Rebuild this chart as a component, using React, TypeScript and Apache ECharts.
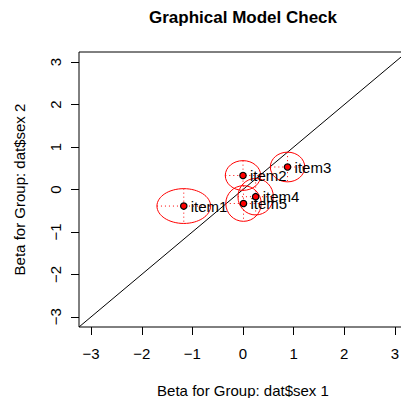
import React, { useEffect, useRef } from "react";
import * as echarts from "echarts";

const itemNames = ["item1", "item2", "item3", "item4", "item5"];
const betaGroup1 = [-1.17, 0.0, 0.88, 0.25, 0.01];
const betaGroup2 = [-0.39, 0.33, 0.53, -0.17, -0.33];
const radiusGroup1 = [0.53, 0.35, 0.34, 0.35, 0.35];
const radiusGroup2 = [0.41, 0.35, 0.35, 0.43, 0.42];
const tickValues = [-3, -2, -1, 0, 1, 2, 3];
const axisLimit = 3.24;

const FONT = "'Liberation Sans', Arial, Helvetica, sans-serif";

export default function App() {
  const ref = useRef<HTMLDivElement>(null);
  useEffect(() => {
    if (!ref.current) return;
    const chart = echarts.init(ref.current, null, { renderer: "svg" });
    const data = itemNames.map((n, i) => [
      betaGroup1[i],
      betaGroup2[i],
      radiusGroup1[i],
      radiusGroup2[i],
      n,
    ]);
    const axisCommon = {
      type: "value",
      min: -axisLimit,
      max: axisLimit,
      splitLine: { show: false },
      axisLine: { show: false, onZero: false },
      axisTick: {
        show: true,
        length: 8,
        inside: false,
        customValues: tickValues,
        lineStyle: { color: "#000", width: 1 },
      },
      nameLocation: "middle",
      nameTextStyle: { fontFamily: FONT, fontSize: 15, color: "#000" },
    };
    const fmt = (v: number) => (v < 0 ? "\u2212" + Math.abs(v) : String(v));
    chart.setOption({
      animation: false,
      backgroundColor: "#fff",
      graphic: [
        {
          type: "text",
          x: 243,
          y: 17,
          style: {
            text: "Graphical Model Check",
            fontFamily: FONT,
            fontSize: 17,
            fontWeight: "bold",
            fill: "#000",
            align: "center",
            verticalAlign: "middle",
          },
        },
      ],
      grid: {
        left: 79,
        top: 52,
        width: 328,
        height: 275,
        show: true,
        borderColor: "#000",
        borderWidth: 1,
        containLabel: false,
        outerBoundsMode: "none",
      },
      xAxis: {
        ...axisCommon,
        name: "Beta for Group: dat$sex 1",
        nameGap: 56,
        axisLabel: {
          customValues: tickValues,
          margin: 19,
          fontFamily: FONT,
          fontSize: 15,
          color: "#000",
          formatter: fmt,
        },
      },
      yAxis: {
        ...axisCommon,
        name: "Beta for Group: dat$sex 2",
        nameGap: 52,
        axisLabel: {
          customValues: tickValues,
          margin: 16,
          rotate: 90,
          fontFamily: FONT,
          fontSize: 15,
          color: "#000",
          formatter: fmt,
        },
      },
      series: [
        {
          type: "line",
          data: [
            [-axisLimit, -axisLimit],
            [axisLimit, axisLimit],
          ],
          symbol: "none",
          lineStyle: { color: "#000", width: 1 },
          silent: true,
          z: 1,
        },
        {
          type: "custom",
          data,
          z: 2,
          clip: false,
          renderItem: (params: any, api: any) => {
            const x = api.value(0);
            const y = api.value(1);
            const rx = api.value(2);
            const ry = api.value(3);
            const c = api.coord([x, y]);
            const sz = api.size([rx, ry], [x, y]);
            const prx = sz[0];
            const pry = sz[1];
            return {
              type: "group",
              children: [
                {
                  type: "ellipse",
                  shape: { cx: c[0], cy: c[1], rx: prx, ry: pry },
                  style: { fill: "none", stroke: "#ff0000", lineWidth: 1 },
                },
                {
                  type: "line",
                  shape: { x1: c[0] - prx, y1: c[1], x2: c[0] + prx, y2: c[1] },
                  style: { stroke: "#ff0000", lineWidth: 1, lineDash: [1, 3] },
                },
                {
                  type: "line",
                  shape: { x1: c[0], y1: c[1] - pry, x2: c[0], y2: c[1] + pry },
                  style: { stroke: "#ff0000", lineWidth: 1, lineDash: [1, 3] },
                },
              ],
            };
          },
        },
        {
          type: "custom",
          data,
          z: 3,
          clip: false,
          renderItem: (params: any, api: any) => {
            const c = api.coord([api.value(0), api.value(1)]);
            return {
              type: "group",
              children: [
                {
                  type: "circle",
                  shape: { cx: c[0], cy: c[1], r: 3.2 },
                  style: { fill: "#ff0000", stroke: "#000", lineWidth: 1.2 },
                },
                {
                  type: "text",
                  x: c[0] + 7,
                  y: c[1],
                  style: {
                    text: String(api.value(4)),
                    fontFamily: FONT,
                    fontSize: 15,
                    fill: "#000",
                    align: "left",
                    verticalAlign: "middle",
                  },
                },
              ],
            };
          },
        },
      ],
    });
    return () => chart.dispose();
  }, []);
  return (
    <div
      ref={ref}
      style={{ position: "fixed", left: 0, top: 0, width: 401, height: 398, background: "#fff" }}
    />
  );
}
